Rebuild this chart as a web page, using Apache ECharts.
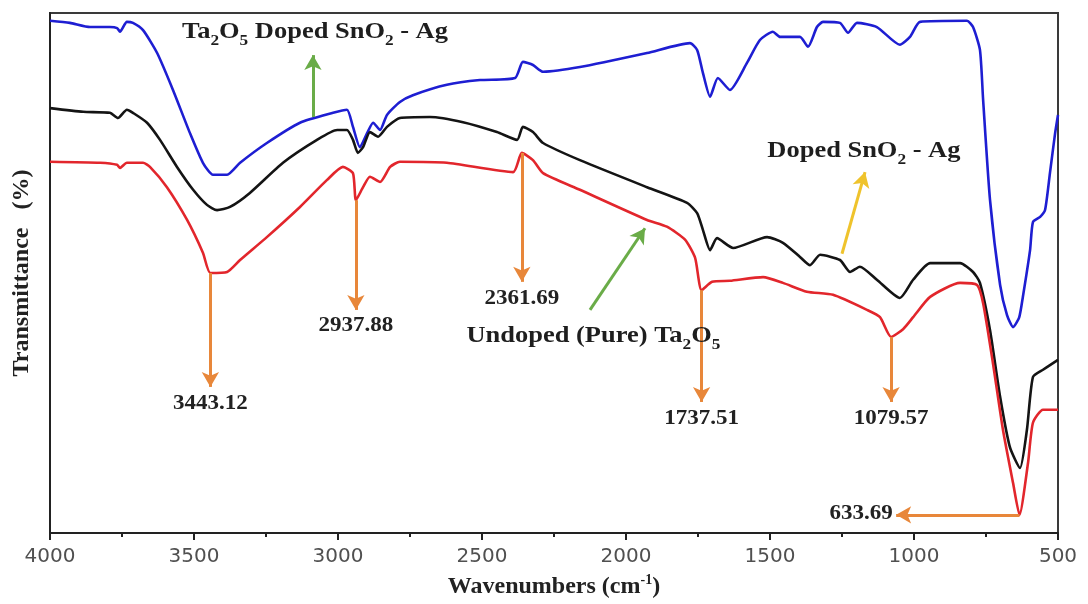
<!DOCTYPE html>
<html>
<head>
<meta charset="utf-8">
<script src="https://cdn.jsdelivr.net/npm/echarts@6/dist/echarts.min.js"></script>
<style>
  html, body { margin: 0; padding: 0; background: #ffffff; }
  #chart { width: 1088px; height: 604px; }
</style>
</head>
<body>
<div id="chart"></div>
<script>
// FTIR spectra: wavenumber (cm-1) vs transmittance (arbitrary %, curves offset)
const xTicks = [4000, 3500, 3000, 2500, 2000, 1500, 1000, 500];

// Ta2O5 doped SnO2 - Ag
const blueWn = [4000, 3931, 3861, 3792, 3767, 3757, 3733, 3712, 3677, 3628,
  3573, 3514, 3469, 3434, 3385, 3340, 3247, 3132, 3017, 2969,
  2948, 2924, 2899, 2878, 2854, 2830, 2785, 2740, 2622, 2507,
  2385, 2358, 2323, 2288, 2160, 1927, 1778, 1753, 1733, 1708,
  1681, 1639, 1580, 1535, 1490, 1465, 1396, 1368, 1337, 1316,
  1257, 1229, 1198, 1129, 1049, 1014, 979, 816, 795, 771,
  760, 736, 701, 677, 656, 635, 622, 597, 587, 562,
  545, 528, 510, 500];
const blueT = [98.5, 98.1, 97.3, 97.3, 97.1, 96.4, 98.3, 98.1, 96.7, 92.3,
  85.2, 76.9, 71.2, 68.9, 68.9, 71.2, 75.0, 78.9, 80.8, 81.4,
  78.1, 74.2, 76.9, 78.9, 77.5, 80.4, 82.9, 84.2, 86.2, 87.1,
  87.5, 90.6, 90.0, 88.7, 89.6, 92.3, 94.2, 92.9, 88.5, 83.9,
  87.5, 85.2, 90.4, 94.8, 96.4, 95.4, 95.4, 93.5, 97.3, 98.3,
  98.1, 96.2, 98.1, 97.3, 93.9, 95.4, 98.3, 98.5, 97.3, 92.9,
  83.3, 64.0, 47.7, 41.9, 39.6, 41.4, 45.4, 54.4, 59.8, 60.8,
  62.1, 69.2, 76.9, 80.4];

// Doped SnO2 - Ag
const blackWn = [4000, 3885, 3792, 3764, 3733, 3712, 3663, 3618, 3559, 3503,
  3455, 3420, 3375, 3306, 3191, 3073, 3003, 2969, 2948, 2931,
  2913, 2889, 2861, 2830, 2785, 2681, 2566, 2448, 2378, 2358,
  2323, 2288, 2160, 1927, 1788, 1753, 1733, 1708, 1684, 1628,
  1510, 1455, 1396, 1361, 1326, 1257, 1222, 1188, 1129, 1049,
  1003, 944, 840, 795, 771, 736, 701, 667, 632, 608,
  587, 552, 500];
const blackT = [81.7, 81.0, 80.8, 79.8, 81.4, 80.8, 78.9, 75.6, 70.4, 66.0,
  63.1, 62.1, 62.7, 65.4, 71.2, 75.6, 77.5, 77.5, 75.6, 73.1,
  74.2, 77.1, 76.2, 78.1, 79.8, 80.0, 79.0, 77.1, 75.6, 78.1,
  77.1, 75.0, 71.7, 66.5, 63.5, 61.5, 58.3, 54.4, 56.7, 54.8,
  56.9, 55.8, 53.1, 51.5, 53.5, 52.5, 50.2, 51.2, 48.7, 45.2,
  48.7, 51.9, 51.9, 50.2, 48.1, 39.0, 26.2, 16.5, 12.5, 19.8,
  30.0, 31.4, 33.3];

// Undoped (pure) Ta2O5
const redWn = [4000, 3826, 3767, 3757, 3733, 3677, 3653, 3594, 3524, 3469,
  3443.12, 3385, 3340, 3247, 3132, 3038, 2983, 2948, 2937.88, 2913,
  2889, 2854, 2819, 2785, 2622, 2392, 2361.69, 2323, 2288, 2160,
  1927, 1858, 1795, 1760, 1737.51, 1701, 1639, 1524, 1455, 1372,
  1281, 1163, 1118, 1079.57, 1038, 1003, 944, 840, 781, 760,
  726, 691, 656, 633.69, 604, 587, 552, 500];
const redT = [71.4, 71.2, 70.8, 70.2, 71.2, 71.2, 70.4, 66.5, 60.2, 53.9,
  50.0, 50.2, 52.5, 56.9, 62.7, 67.9, 70.4, 69.2, 64.0, 66.5,
  68.5, 67.5, 70.4, 71.4, 71.2, 69.4, 73.1, 71.7, 69.2, 66.0,
  60.2, 58.9, 56.4, 52.9, 46.7, 48.3, 48.5, 49.2, 48.1, 46.4,
  45.8, 42.9, 41.5, 37.7, 39.2, 41.5, 45.4, 48.1, 47.7, 44.2,
  32.7, 19.8, 9.6, 3.5, 13.5, 21.2, 23.7, 23.7];

// Band positions called out on the pure Ta2O5 spectrum
const peakWn = [3443.12, 2937.88, 2361.69, 1737.51, 1079.57];
const lowPeakWn = 633.69;

const zip = (xs, ys) => xs.map((x, i) => [x, ys[i]]);
const redAt = wn => redT[redWn.indexOf(wn)];

const ORANGE = '#e8873a';
const GREEN = '#6aac48';
const GOLD = '#efc32c';
const SERIF = '"Liberation Serif", "Times New Roman", serif';
const TEXT_STRETCH = 1.15;

// arrow tip / label heights (transmittance units) for each vertical call-out
const peakArrowTip = [28.1, 42.9, 48.3, 25.2, 25.2];
const peakLabelAt = [24.9, 39.8, 45.0, 21.9, 21.9];

const peakArrows = peakWn.map((wn, i) => [
  { coord: [wn, redAt(wn)] },
  { coord: [wn, peakArrowTip[i]] }
]);
peakArrows.push([
  { coord: [lowPeakWn, redAt(lowPeakWn)] },
  { coord: [1062, redAt(lowPeakWn)] }
]);

const chart = echarts.init(document.getElementById('chart'), null, { renderer: 'canvas' });

const lineSeries = (name, data, color) => ({
  name, type: 'line', data,
  showSymbol: false, smooth: 0.2,
  lineStyle: { color, width: 2.6 },
  itemStyle: { color },
  silent: true, z: 3
});

const blue = lineSeries('Ta2O5 Doped SnO2 - Ag', zip(blueWn, blueT), '#1e1ed2');
const black = lineSeries('Doped SnO2 - Ag', zip(blackWn, blackT), '#141414');
const red = lineSeries('Undoped (Pure) Ta2O5', zip(redWn, redT), '#e2262c');

const arrowMark = (data) => ({
  silent: true, animation: false,
  symbol: ['none', 'arrow'], symbolSize: [13, 15],
  label: { show: false },
  lineStyle: { width: 3, type: 'solid', opacity: 1 },
  emphasis: { disabled: true },
  data
});

red.markLine = arrowMark(
  peakArrows.map(seg => [Object.assign({ lineStyle: { color: ORANGE } }, seg[0]), seg[1]])
    .concat([[{ coord: [2125, 42.9], lineStyle: { color: GREEN } }, { coord: [1934, 58.6] }]])
);
blue.markLine = arrowMark([[{ coord: [3087, 80.0], lineStyle: { color: GREEN } }, { coord: [3087, 91.9] }]]);
black.markLine = arrowMark([[{ coord: [1250, 53.7], lineStyle: { color: GOLD } }, { coord: [1170, 69.4] }]]);

const option = {
  animation: false,
  backgroundColor: '#ffffff',
  grid: {
    left: 50, right: 30, top: 13, bottom: 71,
    show: true, borderColor: '#3a3a3a', borderWidth: 2, backgroundColor: 'transparent'
  },
  xAxis: {
    type: 'value', inverse: true,
    min: xTicks[xTicks.length - 1], max: xTicks[0], interval: 500,
    axisLine: { onZero: false, lineStyle: { color: '#222', width: 2 } },
    axisTick: { show: true, length: 7, lineStyle: { color: '#222', width: 2 } },
    minorTick: { show: true, splitNumber: 2, length: 4, lineStyle: { color: '#222', width: 2 } },
    splitLine: { show: false },
    axisLabel: {
      fontFamily: '"DejaVu Sans", sans-serif', fontSize: 20, color: '#505050', margin: 14,
      formatter: v => String(v)
    },
    name: '{a|Wavenumbers (cm}{sup|-1}{a|)}',
    nameLocation: 'middle', nameGap: 40,
    nameTextStyle: {
      rich: {
        a: { fontFamily: SERIF, fontWeight: 'bold', fontSize: 24, color: '#222' },
        sup: { fontFamily: SERIF, fontWeight: 'bold', fontSize: 14, color: '#222', padding: [0, 0, 14, 0] }
      }
    }
  },
  yAxis: {
    type: 'value', min: 0, max: 100,
    axisLine: { show: true, onZero: false, lineStyle: { color: '#222', width: 2 } },
    axisTick: { show: false }, axisLabel: { show: false }, splitLine: { show: false },
    name: 'Transmittance   (%)', nameLocation: 'middle', nameGap: 16, nameRotate: 90,
    nameTextStyle: { fontFamily: SERIF, fontWeight: 'bold', fontSize: 24, color: '#222' }
  },
  series: [blue, black, red]
};
chart.setOption(option);

// Text call-outs, placed in data coordinates
const MAIN = { fontFamily: SERIF, fontWeight: 'bold', fontSize: 23, lineHeight: 26, fill: '#1e1e1e', verticalAlign: 'middle' };
const SUB = { fontFamily: SERIF, fontWeight: 'bold', fontSize: 15, lineHeight: 26, fill: '#1e1e1e', verticalAlign: 'middle', padding: [18, 0, 0, 0] };
const NUM = { fontFamily: SERIF, fontWeight: 'bold', fontSize: 20, fill: '#222', verticalAlign: 'middle' };

const notes = [
  { text: '{m|Ta}{s|2}{m|O}{s|5}{m| Doped SnO}{s|2}{m| - Ag}', at: [3080, 96.4] },
  { text: '{m|Doped SnO}{s|2}{m| - Ag}', at: [1174, 73.5] },
  { text: '{m|Undoped (Pure) Ta}{s|2}{m|O}{s|5}', at: [2113, 37.8] }
];
peakWn.forEach((wn, i) => notes.push({ text: '{n|' + wn.toFixed(2) + '}', at: [wn, peakLabelAt[i]] }));
notes.push({ text: '{n|' + lowPeakWn.toFixed(2) + '}', at: [1184, 3.6] });

const graphic = notes.map(n => {
  const p = chart.convertToPixel({ gridIndex: 0 }, n.at);
  return {
    type: 'text', x: p[0], y: p[1], scaleX: TEXT_STRETCH, silent: true, z: 10,
    style: {
      text: n.text, align: 'center', verticalAlign: 'middle',
      rich: { m: MAIN, s: SUB, n: NUM }
    }
  };
});
chart.setOption({ graphic });
</script>
</body>
</html>
